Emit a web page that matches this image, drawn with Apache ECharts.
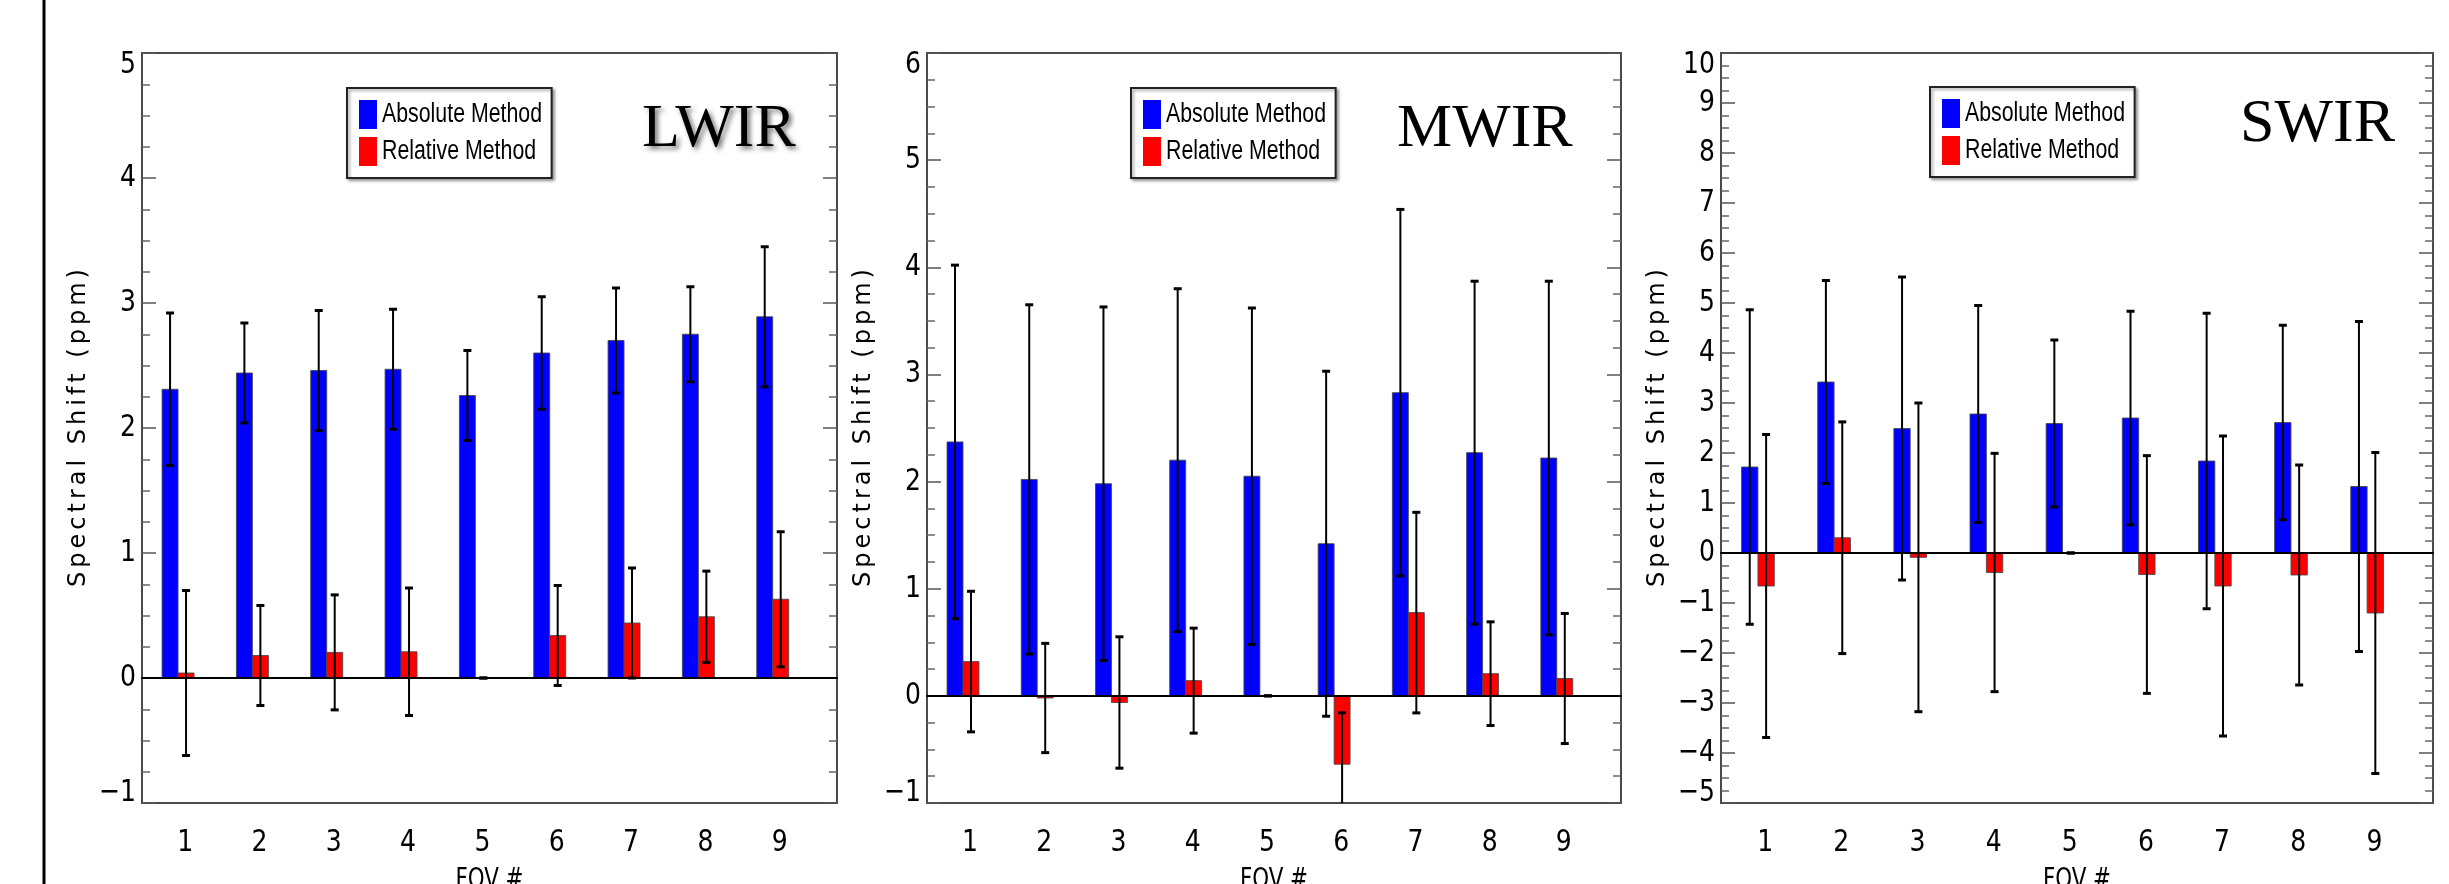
<!DOCTYPE html>
<html>
<head>
<meta charset="utf-8">
<script src="https://cdn.jsdelivr.net/npm/echarts@6/dist/echarts.min.js"></script>
<style>
html,body{margin:0;padding:0;background:#ffffff;}
#c{width:2449px;height:884px;}
</style>
</head>
<body>
<div id="c"></div>
<script>
// ---- data ----
const fovs = [1, 2, 3, 4, 5, 6, 7, 8, 9];

const lwirAbs    = [2.31, 2.44, 2.46, 2.47, 2.26, 2.60, 2.70, 2.75, 2.89];
const lwirAbsErr = [0.61, 0.40, 0.48, 0.48, 0.36, 0.45, 0.42, 0.38, 0.56];
const lwirRel    = [0.04, 0.18, 0.205, 0.21, 0.0, 0.34, 0.44, 0.49, 0.63];
const lwirRelErr = [0.66, 0.40, 0.46, 0.51, 0.0, 0.40, 0.44, 0.365, 0.54];

const mwirAbs    = [2.37, 2.02, 1.98, 2.20, 2.05, 1.42, 2.83, 2.27, 2.22];
const mwirAbsErr = [1.65, 1.63, 1.65, 1.60, 1.57, 1.61, 1.71, 1.60, 1.65];
const mwirRel    = [0.32, -0.02, -0.062, 0.142, 0.0, -0.638, 0.777, 0.207, 0.162];
const mwirRelErr = [0.656, 0.51, 0.613, 0.49, 0.0, 0.48, 0.936, 0.484, 0.607];

const swirAbs    = [1.72, 3.42, 2.49, 2.78, 2.59, 2.70, 1.84, 2.61, 1.33];
const swirAbsErr = [3.145, 2.03, 3.03, 2.17, 1.67, 2.135, 2.955, 1.945, 3.30];
const swirRel    = [-0.66, 0.305, -0.087, -0.39, 0.0, -0.43, -0.66, -0.44, -1.2];
const swirRelErr = [3.03, 2.317, 3.087, 2.383, 0.0, 2.377, 3.0, 2.2, 3.21];

const lwirTicks = [-1, 0, 1, 2, 3, 4, 5];
const mwirTicks = [-1, 0, 1, 2, 3, 4, 5, 6];
const swirTicks = [-5, -4, -3, -2, -1, 0, 1, 2, 3, 4, 5, 6, 7, 8, 9, 10];

const panelNames = ['LWIR', 'MWIR', 'SWIR'];
const seriesNames = ['Absolute Method', 'Relative Method'];
const yTitle = 'Spectral Shift (ppm)';
const xTitle = 'FOV #';

// ---- glyph styling like the original plot: tracked y title, narrow labels ----
const LEGEND_SQUEEZE = 0.79, LABEL_SQUEEZE = 0.9, XNAME_SQUEEZE = 0.85;
(function () {
  const orig = CanvasRenderingContext2D.prototype.fillText;
  const SP = 4;
  function squeeze(t) {
    if (seriesNames.indexOf(t) >= 0) return LEGEND_SQUEEZE;
    if (t === xTitle) return XNAME_SQUEEZE;
    if (/^[\u2212-]?\d+$/.test(t)) return LABEL_SQUEEZE;
    return 1;
  }
  CanvasRenderingContext2D.prototype.fillText = function (t, x, y, mw) {
    if (t === yTitle) {
      const chars = Array.from(t);
      const widths = chars.map(c => this.measureText(c).width);
      const natural = this.measureText(t).width;
      const total = widths.reduce((a, b) => a + b, 0) + SP * (chars.length - 1);
      const align = this.textAlign;
      let start = x;
      if (align === 'center') start = x - natural / 2;
      else if (align === 'right' || align === 'end') start = x - natural;
      start -= (total - natural) / 2;
      this.textAlign = 'left';
      let cx = start;
      for (let i = 0; i < chars.length; i++) { orig.call(this, chars[i], cx, y); cx += widths[i] + SP; }
      this.textAlign = align;
      return;
    }
    const s = squeeze(t);
    if (s !== 1) {
      this.save();
      this.translate(x, y);
      this.scale(s, 1);
      orig.call(this, t, 0, 0);
      this.restore();
      return;
    }
    return orig.apply(this, arguments);
  };
})();

// ---- layout / style ----
const SANS = "'Liberation Sans',Arial,Helvetica,sans-serif";
const COND = "'DejaVu Sans Condensed','DejaVu Sans',sans-serif";
const panels = [
  {abs: lwirAbs, absErr: lwirAbsErr, rel: lwirRel, relErr: lwirRelErr, ticks: lwirTicks,
   grid: {left: 142, top: 53, width: 695, height: 750}, legend: {left: 347, top: 88},
   title: {left: 642, top: 99}, shadow: true},
  {abs: mwirAbs, absErr: mwirAbsErr, rel: mwirRel, relErr: mwirRelErr, ticks: mwirTicks,
   grid: {left: 927, top: 53, width: 694, height: 750}, legend: {left: 1131, top: 88},
   title: {left: 1397, top: 99}, shadow: false},
  {abs: swirAbs, absErr: swirAbsErr, rel: swirRel, relErr: swirRelErr, ticks: swirTicks,
   grid: {left: 1721, top: 53, width: 712, height: 750}, legend: {left: 1930, top: 87},
   title: {left: 2240, top: 94}, shadow: false}
];
const X_MIN = 0.42, X_MAX = 9.77;
const BLUE_OFF = [-0.31, -0.095], RED_OFF = [-0.095, 0.12];
const LEGEND_FONT = 27;
// right padding compensates for the horizontally squeezed legend text
const legendTextW = 7.504 * LEGEND_FONT;
const LEGEND_PAD_R = Math.round(10 - legendTextW * (1 - LEGEND_SQUEEZE));

function fmtNum(v) { return v < 0 ? '\u2212' + Math.abs(v) : String(v); }

function barSeries(name, color, vals, errs, off, gi) {
  return {
    type: 'custom', name: name, xAxisIndex: gi * 2, yAxisIndex: gi * 2,
    itemStyle: {color: color},
    data: fovs.map((f, i) => [f, vals[i], errs[i]]),
    encode: {x: 0, y: 1},
    z: 3,
    renderItem: function (params, api) {
      const x = api.value(0), v = api.value(1), e = api.value(2);
      const cs = params.coordSys;
      const pA = api.coord([x + off[0], 0]);
      const pB = api.coord([x + off[1], v]);
      const xc = api.coord([x + (off[0] + off[1]) / 2, 0])[0];
      const yTop = Math.max(api.coord([x, v + e])[1], cs.y);
      const yBotRaw = api.coord([x, v - e])[1];
      const yBot = Math.min(yBotRaw, cs.y + cs.height);
      const rx = Math.min(pA[0], pB[0]), ry = Math.min(pA[1], pB[1]);
      const children = [];
      if (Math.abs(pB[1] - pA[1]) > 0.5) {
        children.push({type: 'rect',
          shape: {x: rx, y: ry, width: Math.abs(pB[0] - pA[0]), height: Math.abs(pB[1] - pA[1])},
          style: {fill: color, stroke: 'rgba(70,70,70,0.85)', lineWidth: 1}});
      }
      const blk = '#000';
      children.push({type: 'line', shape: {x1: xc, y1: yTop, x2: xc, y2: yBot},
        style: {stroke: blk, lineWidth: 2}});
      children.push({type: 'line', shape: {x1: xc - 4, y1: yTop, x2: xc + 4, y2: yTop},
        style: {stroke: blk, lineWidth: 3}});
      if (yBotRaw <= cs.y + cs.height) {
        children.push({type: 'line', shape: {x1: xc - 4, y1: yBot, x2: xc + 4, y2: yBot},
          style: {stroke: blk, lineWidth: 3}});
      }
      return {type: 'group', children: children};
    }
  };
}

const option = {
  backgroundColor: '#ffffff',
  animation: false,
  grid: [], xAxis: [], yAxis: [], series: [], legend: [], title: [],
  graphic: [{type: 'line', shape: {x1: 44, y1: 0, x2: 44, y2: 884},
             style: {stroke: '#000', lineWidth: 3}, silent: true}]
};

panels.forEach((p, gi) => {
  const ymin = p.ticks[0], ymax = p.ticks[p.ticks.length - 1];
  option.grid.push(Object.assign({show: true, borderColor: '#4a4a4a', borderWidth: 2,
    backgroundColor: 'transparent', containLabel: false, outerBoundsMode: 'none'}, p.grid));
  // bottom axis with labels
  option.xAxis.push({
    type: 'value', gridIndex: gi, min: X_MIN, max: X_MAX, position: 'bottom',
    axisLine: {show: false, onZero: false},
    axisTick: {show: false},
    splitLine: {show: false},
    axisLabel: {customValues: fovs, fontFamily: COND, fontSize: 31, color: '#000', margin: 24,
      formatter: v => String(v)},
    name: xTitle, nameLocation: 'middle', nameGap: 64,
    nameTextStyle: {fontFamily: COND, fontSize: 28, color: '#000'}
  });
  // zero line axis
  option.xAxis.push({
    type: 'value', gridIndex: gi, min: X_MIN, max: X_MAX, position: 'bottom', z: 5,
    axisLine: {show: true, onZero: true, onZeroAxisIndex: gi * 2, lineStyle: {color: '#000', width: 2}},
    axisTick: {show: false}, axisLabel: {show: false}, splitLine: {show: false}
  });
  const labelRich = {
    t: {fontFamily: COND, fontSize: 31, color: '#000', padding: [24, 0, 0, 0]},
    b: {fontFamily: COND, fontSize: 31, color: '#000', padding: [0, 0, 20, 0]}
  };
  option.yAxis.push({
    type: 'value', gridIndex: gi, min: ymin, max: ymax, interval: 1, position: 'left',
    axisLine: {show: true, onZero: false, lineStyle: {color: '#4a4a4a', width: 2}},
    axisTick: {show: true, inside: true, length: 14, lineStyle: {color: '#555', width: 1.5}},
    minorTick: {show: true, splitNumber: 4, length: 8, lineStyle: {color: '#666', width: 1.5}},
    splitLine: {show: false}, minorSplitLine: {show: false},
    axisLabel: {fontFamily: COND, fontSize: 31, color: '#000', margin: 6,
      formatter: v => {
        const s = fmtNum(v);
        if (v === ymax) return '{t|' + s + '}';
        if (v === ymin) return '{b|' + s + '}';
        return s;
      }, rich: labelRich},
    name: yTitle, nameLocation: 'middle', nameGap: 37, nameRotate: 90,
    nameTextStyle: {fontFamily: "'DejaVu Sans',sans-serif", fontSize: 24, color: '#000'}
  });
  option.yAxis.push({
    type: 'value', gridIndex: gi, min: ymin, max: ymax, interval: 1, position: 'right',
    axisLine: {show: true, onZero: false, lineStyle: {color: '#4a4a4a', width: 2}},
    axisTick: {show: true, inside: true, length: 14, lineStyle: {color: '#555', width: 1.5}},
    minorTick: {show: true, splitNumber: 4, length: 8, lineStyle: {color: '#666', width: 1.5}},
    splitLine: {show: false}, minorSplitLine: {show: false},
    axisLabel: {show: false}
  });
  option.series.push(barSeries(seriesNames[0], '#0000ff', p.abs, p.absErr, BLUE_OFF, gi));
  option.series.push(barSeries(seriesNames[1], '#ff0000', p.rel, p.relErr, RED_OFF, gi));
  option.legend.push({
    data: seriesNames, orient: 'vertical', left: p.legend.left, top: p.legend.top,
    icon: 'rect', itemWidth: 18, itemHeight: 29, itemGap: 8,
    padding: [12, LEGEND_PAD_R, 12, 12], backgroundColor: '#fff',
    borderColor: '#222', borderWidth: 2,
    shadowColor: 'rgba(0,0,0,0.35)', shadowBlur: 3, shadowOffsetX: 2, shadowOffsetY: 2,
    itemStyle: {borderWidth: 0},
    textStyle: {fontFamily: SANS, fontSize: LEGEND_FONT, color: '#000'},
    selectedMode: false
  });
  const ts = {fontFamily: "'Liberation Serif','Times New Roman',serif", fontSize: 62,
    fontWeight: 'normal', color: '#000'};
  if (p.shadow) {
    ts.textShadowColor = 'rgba(0,0,0,0.55)'; ts.textShadowBlur = 5;
    ts.textShadowOffsetX = 3; ts.textShadowOffsetY = 3;
  }
  option.title.push({text: panelNames[gi], left: p.title.left, top: p.title.top, padding: 0,
    textStyle: ts});
});

const chart = echarts.init(document.getElementById('c'), null, {renderer: 'canvas', width: 2449, height: 884});
chart.setOption(option);
</script>
</body>
</html>
